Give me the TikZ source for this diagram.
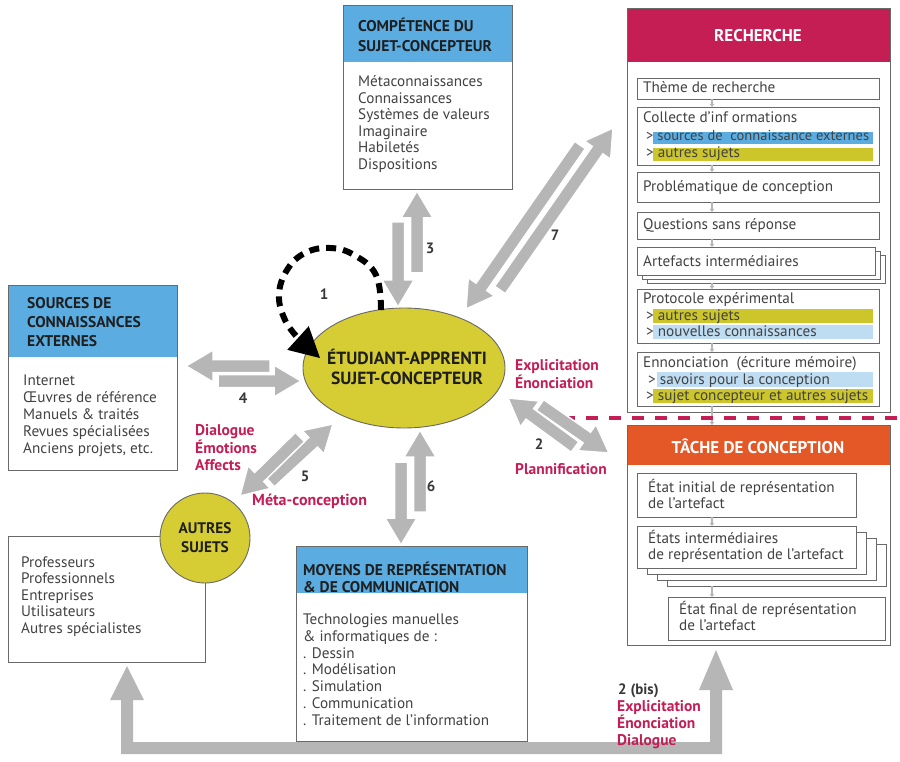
\documentclass[tikz,border=0pt]{standalone}
\usepackage{fontspec}
\setmainfont{PT Sans}
\usetikzlibrary{calc,arrows.meta,shapes.geometric}
\definecolor{hblue}{RGB}{90,172,225}
\definecolor{lblue}{RGB}{190,220,242}
\definecolor{mag}{RGB}{196,30,85}
\definecolor{orng}{RGB}{227,88,38}
\definecolor{yel}{RGB}{214,204,52}
\definecolor{hyel}{RGB}{205,198,42}
\definecolor{agrey}{RGB}{182,182,182}
\definecolor{txt}{RGB}{66,66,66}
\definecolor{bord}{RGB}{105,105,105}
\definecolor{numc}{RGB}{55,55,55}
\newcommand\fatarrow[2]{%
  \coordinate (fah) at ($(#2)!27pt!(#1)$);
  \filldraw[fatst] ($(#1)!6.5pt!90:(#2)$) -- ($(fah)!6.5pt!90:(#2)$) -- ($(fah)!16pt!90:(#2)$) -- (#2) -- ($(fah)!16pt!-90:(#2)$) -- ($(fah)!6.5pt!-90:(#2)$) -- ($(#1)!6.5pt!-90:(#2)$) -- cycle;}
\tikzset{
  box/.style={draw=bord, line width=0.9pt, fill=white, anchor=north west, inner sep=0pt, outer sep=0pt},
  hdr/.style 2 args={path picture={\fill[#1] (path picture bounding box.north west) rectangle ([yshift=-#2]path picture bounding box.north east);}},
  body/.style={anchor=base west, inner sep=0pt, align=left, text=txt, font=\fontsize{15.2}{16.5}\selectfont},
  htext/.style={anchor=base west, inner sep=0pt, align=left, text=black!88, font=\bfseries\fontsize{15.5}{19.5}\selectfont},
  wtitle/.style={inner sep=0pt, text=white, font=\bfseries\fontsize{17}{19}\selectfont},
  redlab/.style={anchor=base west, inner sep=0pt, align=left, text=mag, font=\bfseries\fontsize{15.5}{16.5}\selectfont},
  num/.style={anchor=base, inner sep=0pt, text=numc, font=\bfseries\fontsize{15}{17}\selectfont},
  fatst/.style={fill=agrey, draw=white, line width=1.5pt, line join=miter},
  sconn/.style={draw=agrey, line width=1.2pt, -{Triangle[length=3pt,width=4.5pt]}},
}
\begin{document}
\begin{tikzpicture}[x=1pt,y=-1pt]
\useasboundingbox (0,0) rectangle (900,762);
\fill[white] (0,0) rectangle (900,762);

% ---------- COMPETENCE ----------
\node[box, minimum width=169pt, minimum height=184pt, hdr={hblue}{57pt}] (comp) at (343,5) {};
\node[htext, font=\bfseries\fontsize{15.5}{20}\selectfont] (compT) at (358,52) {COMPÉTENCE DU\\SUJET-CONCEPTEUR};
\node[body] (compB) at (358,169.5) {Métaconnaissances\\Connaissances\\Systèmes de valeurs\\Imaginaire\\Habiletés\\Dispositions};

% ---------- SOURCES ----------
\node[box, minimum width=169pt, minimum height=185pt, hdr={hblue}{72pt}] (src) at (8,285) {};
\node[htext, font=\bfseries\fontsize{15.5}{19}\selectfont] (srcT) at (27,346) {SOURCES DE\\CONNAISSANCES\\EXTERNES};
\node[body, font=\fontsize{15.2}{17}\selectfont] (srcB) at (23,453) {Internet\\Œuvres de référence\\Manuels \& traités\\Revues spécialisées\\Anciens projets, etc.};

% ---------- AUTRES SUJETS ----------
\node[box, minimum width=197pt, minimum height=126pt] (autbox) at (8,536) {};
\node[body, font=\fontsize{15.2}{16.6}\selectfont] (autB) at (21,633.4) {Professeurs\\Professionnels\\Entreprises\\Utilisateurs\\Autres spécialistes};
\node[circle, draw=bord, fill=yel, line width=0.9pt, minimum size=90pt, inner sep=0pt] (aut) at (205,538) {};
\node[anchor=base, inner sep=0pt, align=center, text=black!88, font=\bfseries\fontsize{15.3}{19}\selectfont] (autT) at (205,552) {AUTRES\\SUJETS};

% ---------- MOYENS ----------
\node[box, minimum width=231pt, minimum height=195pt, hdr={hblue}{47pt}] (moy) at (296,546) {};
\node[htext, font=\bfseries\fontsize{15.5}{17}\selectfont] (moyT) at (303,592) {MOYENS DE REPRÉSENTATION\\\& DE COMMUNICATION};
\node[body, font=\fontsize{15.2}{16.7}\selectfont] (moyB) at (303,725) {Technologies manuelles\\\& informatiques de :\\. Dessin\\. Modélisation\\. Simulation\\. Communication\\. Traitement de l’information};

% ---------- RECHERCHE ----------
\node[box, minimum width=263pt, minimum height=404pt, hdr={mag}{54pt}] (rech) at (627,8) {};
\node[wtitle] (rechT) at (758,36) {RECHERCHE};
\node[box, minimum width=242pt, minimum height=21pt] (theme) at (637,78) {};
\node[box, minimum width=242pt, minimum height=58pt] (coll) at (637,107) {};
\node[box, minimum width=242pt, minimum height=30pt] (prob) at (637,172) {};
\node[box, minimum width=242pt, minimum height=27pt] (quest) at (637,212) {};
\node[box, minimum width=238pt, minimum height=28pt] (art3) at (647,255) {};
\node[box, minimum width=238pt, minimum height=28pt] (art2) at (642,251) {};
\node[box, minimum width=238pt, minimum height=28pt] (art) at (637,247) {};
\node[box, minimum width=242pt, minimum height=54pt] (prot) at (637,289) {};
\node[box, minimum width=242pt, minimum height=54pt] (enon) at (637,352) {};
\fill[hblue] (653,132) rectangle (873,144);
\fill[hyel] (653,148) rectangle (873,161);
\fill[hyel] (653,309) rectangle (873,323);
\fill[lblue] (653,325) rectangle (873,339);
\fill[lblue] (657,372) rectangle (873,387);
\fill[hyel] (653,389) rectangle (873,403);
\node[body] (themeT) at (643,93) {Thème de recherche};
\node[body] (collT) at (643,123) {Collecte d’inf ormations};
\node[body, font=\fontsize{14.5}{16.5}\selectfont] (collA) at (646,141) {> sources de\ \ connaissance externes};
\node[body] (collB) at (646,157.5) {> autres sujets};
\node[body] (probT) at (643,192) {Problématique de conception};
\node[body] (questT) at (643,230) {Questions sans réponse};
\node[body] (artT) at (643,266) {Artefacts intermédiaires};
\node[body] (protT) at (643,303) {Protocole expérimental};
\node[body] (protA) at (646,320) {> autres sujets};
\node[body] (protB) at (646,336) {> nouvelles connaissances};
\node[body] (enonT) at (643,367) {Ennonciation\ \ (écriture mémoire)};
\node[body] (enonA) at (648,384) {> savoirs pour la conception};
\node[body] (enonB) at (646,400) {> sujet concepteur et autres sujets};
\coordinate (cx) at (712,0);
\draw[sconn] (cx |- theme.south) -- (cx |- coll.north);
\draw[sconn] (cx |- coll.south) -- (cx |- prob.north);
\draw[sconn] (cx |- prob.south) -- (cx |- quest.north);
\draw[sconn] (cx |- quest.south) -- (cx |- art.north);
\draw[sconn] (cx |- art3.south) -- (cx |- prot.north);
\draw[sconn] (cx |- prot.south) -- (cx |- enon.north);

% ---------- TACHE ----------
\node[box, minimum width=263pt, minimum height=220pt, hdr={orng}{40pt}] (tache) at (627,425) {};
\node[wtitle] (tacheT) at (758,446) {TÂCHE DE CONCEPTION};
\node[box, minimum width=219pt, minimum height=44pt] (etinit) at (637,473) {};
\node[box, minimum width=219pt, minimum height=42pt] (eti3) at (667,544) {};
\node[box, minimum width=219pt, minimum height=42pt] (eti2) at (657,538) {};
\node[box, minimum width=219pt, minimum height=42pt] (eti1) at (647,532) {};
\node[box, minimum width=219pt, minimum height=42pt] (etinter) at (637,526) {};
\node[box, minimum width=217pt, minimum height=43pt] (etfinal) at (668,597) {};
\node[body, font=\fontsize{15.2}{16}\selectfont] (etinitT) at (648,508) {État initial de représentation\\de l’artefact};
\node[body, font=\fontsize{15.2}{16}\selectfont] (etinterT) at (648,559) {États intermédiaires\\de représentation de l’artefact};
\node[body, font=\fontsize{15.2}{16}\selectfont] (etfinalT) at (679,630) {État final de représentation\\de l’artefact};
\draw[sconn] (cx |- etinit.south) -- (cx |- etinter.north);
\draw[sconn] (cx |- eti3.south) -- (cx |- etfinal.north);
\draw[sconn] (cx |- enon.south) -- (cx |- tache.north);

% dashed separator
\coordinate (dashL) at (563,418);
\coordinate (dashR) at (900,418);
\draw[mag, line width=3.5pt, dash pattern=on 12pt off 11pt] (dashL) -- (dashR);

% ---------- CENTRAL ELLIPSE ----------
\node[ellipse, draw=bord, fill=yel, line width=0.9pt, minimum width=202pt, minimum height=120pt, inner sep=0pt] (etu) at (404,368) {};
\node[anchor=base, inner sep=0pt, align=center, text=black!88, font=\bfseries\fontsize{17.6}{20}\selectfont] (etuT) at (407,384) {ÉTUDIANT-APPRENTI\\SUJET-CONCEPTEUR};

% ---------- FAT ARROWS ----------
\coordinate (a3s) at (417,273); \coordinate (a3e) at (417,191);
\coordinate (b3s) at (398,222); \coordinate (b3e) at (398,307);
\fatarrow{a3s}{a3e} \fatarrow{b3s}{b3e}
\coordinate (a6s) at (420,512); \coordinate (a6e) at (420,430);
\coordinate (b6s) at (401,462); \coordinate (b6e) at (401,545);
\fatarrow{a6s}{a6e} \fatarrow{b6s}{b6e}
\coordinate (a4s) at (270,366); \coordinate (a4e) at (186,366);
\coordinate (b4s) at (218,381); \coordinate (b4e) at (301,381);
\fatarrow{a4s}{a4e} \fatarrow{b4s}{b4e}
\coordinate (a7s) at (500,290); \coordinate (a7e) at (613,128);
\coordinate (b7s) at (580,145); \coordinate (b7e) at (466,309);
\fatarrow{a7s}{a7e} \fatarrow{b7s}{b7e}
\coordinate (a2s) at (540,405); \coordinate (a2e) at (609,453);
\coordinate (b2s) at (575,447); \coordinate (b2e) at (508,398);
\fatarrow{a2s}{a2e} \fatarrow{b2s}{b2e}
\coordinate (a5s) at (270,482); \coordinate (a5e) at (333,424);
\coordinate (b5s) at (300,437); \coordinate (b5e) at (240,496);
\fatarrow{a5s}{a5e} \fatarrow{b5s}{b5e}

% bottom L arrow (2 bis)
\fill[agrey] (127,666) -- (144,700) -- (133,700) -- (133,742) -- (710,742) -- (710,690) -- (699,690) -- (716,650) -- (733,690) -- (722,690) -- (722,754) -- (121,754) -- (121,700) -- (110,700) -- cycle;

% ---------- DASHED LOOP 1 ----------
\coordinate (l0) at (381,310);
\coordinate (lh) at (298,338);
\coordinate (lt) at (320,358);
\draw[black, line width=6pt, dash pattern=on 10pt off 7pt] plot[smooth, tension=0.7] coordinates {(l0) (376,275) (354,255) (330,248) (305,253) (287,270) (279,295) (285,320) (lh)};
\fill[black] (lt) -- ($(lh)!16pt!90:(lt)$) -- ($(lh)!16pt!-90:(lt)$) -- cycle;

% ---------- LABELS ----------
\node[num] (n1) at (324,299) {1};
\node[num] (n3) at (430,254) {3};
\node[num] (n7) at (555,241) {7};
\node[num] (n4) at (243,403) {4};
\node[num] (n5) at (305,481) {5};
\node[num] (n6) at (431,491) {6};
\node[num] (n2) at (539,449) {2};
\node[num, anchor=base west] (n2b) at (618,694) {2 (bis)};
\node[redlab] (rExp) at (515,388.5) {Explicitation\\Énonciation};
\node[redlab] (rPlan) at (515,474) {Plannification};
\node[redlab] (rDia) at (195,470) {Dialogue\\Émotions\\Affects};
\node[redlab, font=\bfseries\fontsize{16}{17}\selectfont] (rMeta) at (252,505) {Méta-conception};
\node[redlab, font=\bfseries\fontsize{15.5}{17}\selectfont] (rExp2) at (617,745) {Explicitation\\Énonciation\\Dialogue};
\end{tikzpicture}
\end{document}
